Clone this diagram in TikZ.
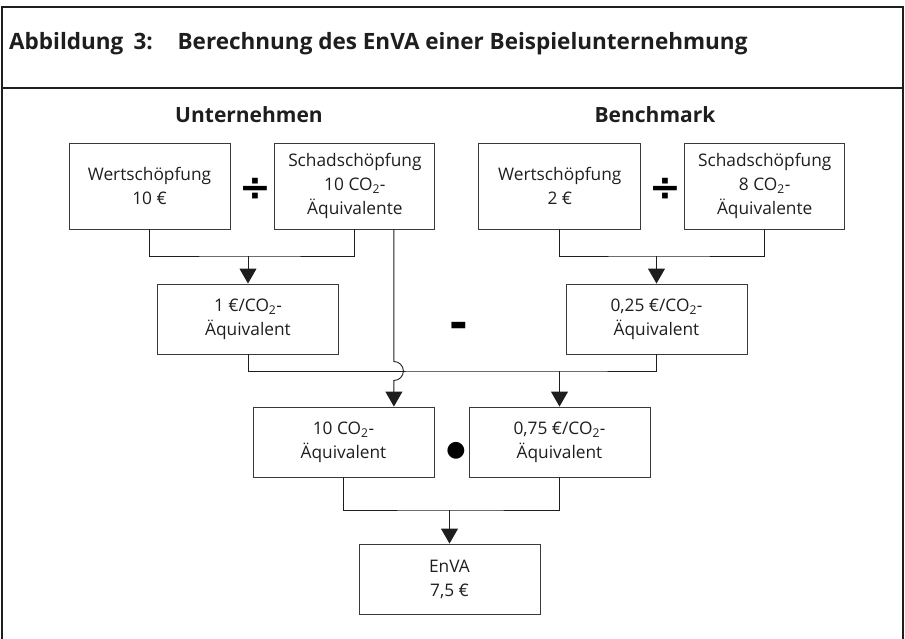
\documentclass[tikz,border=0pt]{standalone}
\usepackage{fontspec}
\setmainfont{Open Sans}
\newfontfamily\symbolfont{DejaVu Sans}
\usepackage{xcolor}
\usetikzlibrary{arrows.meta,positioning,calc}
\definecolor{ink}{HTML}{1E1E1E}
\definecolor{boxline}{HTML}{3A3A3A}
\tikzset{
  enva diagram/.style={
    x=1pt,
    y=-1pt,
    >={Triangle[length=15pt,width=17pt]},
    line join=miter
  },
  framerule/.style={
    draw=ink,
    line width=1.1pt
  },
  calcbox/.style={
    draw=boxline,
    line width=0.9pt,
    align=center,
    inner sep=0pt,
    minimum width=181pt,
    minimum height=70pt,
    text=ink,
    font=\fontsize{17.3}{24}\selectfont
  },
  inputbox/.style={
    calcbox,
    minimum width=161pt,
    minimum height=86pt
  },
  headlabel/.style={
    inner sep=0pt,
    anchor=base,
    text=ink,
    font=\fontsize{21}{25}\selectfont\bfseries
  },
  opsign/.style={
    inner sep=0pt,
    text=black,
    font=\symbolfont\bfseries
  },
  flowline/.style={
    draw=ink,
    line width=0.9pt
  },
  flowarrow/.style={
    flowline,
    ->
  }
}

\begin{document}
\begin{tikzpicture}[enva diagram]
\useasboundingbox (0,0) rectangle (905,639);
% Rahmen und Titelzeile
\draw[framerule] (2,639) -- (2,7) -- (903,7) -- (903,639);
\draw[framerule] (2,88) -- (903,88);
\node[anchor=base west, inner sep=0pt, text=ink, font=\fontsize{22.5}{26}\selectfont\bfseries] (title) at (9,50) {Abbildung\hspace{0.45em}3:\hspace{1.1em}Berechnung des EnVA einer Beispielunternehmung};

% Eingangsgroessen
\node[headlabel] (hu) at (249,123) {Unternehmen};
\node[headlabel] (hb) at (655,123) {Benchmark};
\node[inputbox] (w1) at (149.5,186) {Wertschöpfung\\10 €};
\node[inputbox, right=44pt of w1, minimum width=160pt] (s1) {Schadschöpfung\\10 CO\textsubscript{2}-\\Äquivalente};
\node[inputbox, right=43pt of s1, minimum width=162pt] (w2) {Wertschöpfung\\2 €};
\node[inputbox, right=43pt of w2, minimum width=160pt] (s2) {Schadschöpfung\\8 CO\textsubscript{2}-\\Äquivalente};

% Zwischenergebnisse
\node[calcbox] (r1) at (248,319) {1 €/CO\textsubscript{2}-\\Äquivalent};
\node[calcbox] (r2) at (656.5,319) {0,25 €/CO\textsubscript{2}-\\Äquivalent};
\node[calcbox] (m1) at (343.5,442) {10 CO\textsubscript{2}-\\Äquivalent};
\node[calcbox] (m2) at (559.5,442) {0,75 €/CO\textsubscript{2}-\\Äquivalent};
\node[calcbox] (enva) at (449.5,579) {EnVA\\7,5 €};

% Rechenzeichen
\node[opsign, font=\symbolfont\bfseries\fontsize{38}{38}\selectfont] (div1) at (255,189) {÷};
\node[opsign, font=\symbolfont\bfseries\fontsize{38}{38}\selectfont] (div2) at (665,189) {÷};
\node[opsign, font=\symbolfont\bfseries\fontsize{45}{45}\selectfont] (minus) at (459,330) {-};
\node[opsign, font=\symbolfont\fontsize{22}{22}\selectfont] (dot) at (456,451) {●};

% Verbindungen
\coordinate (ju) at (r1.north |- 0,256);
\coordinate (jb) at (r2.north |- 0,256);
\coordinate (jr) at (m2.north |- 0,371);
\coordinate (jm) at (enva.north |- 0,510);
\coordinate (byp) at ($(s1.south)+(39,0)$);

\draw[flowline] (w1.south) |- (ju) -| (s1.south);
\draw[flowarrow] (ju) -- (r1.north);
\draw[flowline] (w2.south) |- (jb) -| (s2.south);
\draw[flowarrow] (jb) -- (r2.north);
\draw[flowline] (r1.south) |- (jr) -| (r2.south);
\draw[flowarrow] (jr) -- (m2.north);
\draw[flowarrow] (byp) -- ($(byp |- jr)+(0,-9.5)$) arc[start angle=90, end angle=-90, radius=9.5pt] -- (byp |- m1.north);
\draw[flowline] (m1.south) |- (jm) -| (m2.south);
\draw[flowarrow] (jm) -- (enva.north);
\end{tikzpicture}
\end{document}
